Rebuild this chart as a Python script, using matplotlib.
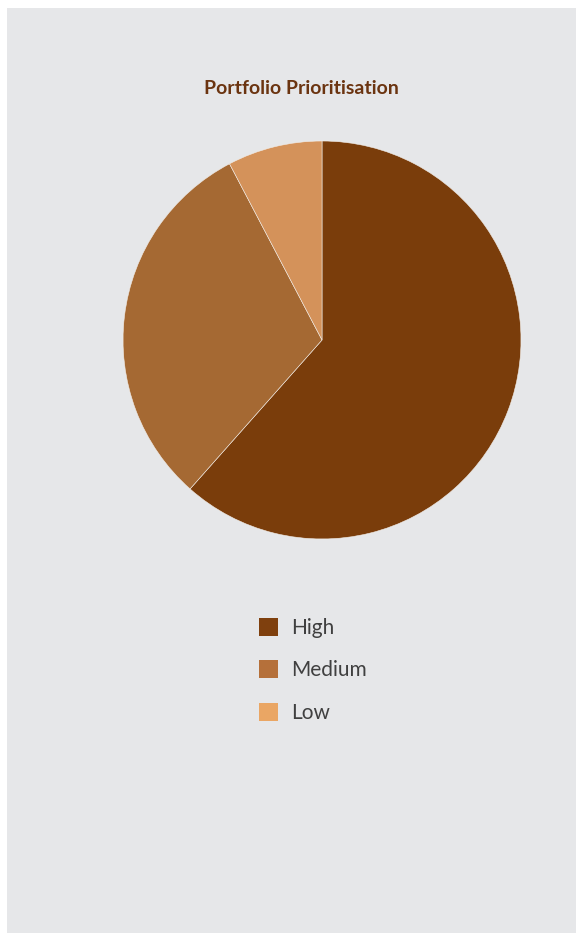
import matplotlib.pyplot as plt

from matplotlib.patches import Patch

# chart data
labels = ["High", "Medium", "Low"]
values = [16, 8, 2]
pie_colors = ["#7A3D0B", "#A56933", "#D4925A"]
legend_colors = ["#7F400E", "#B5703A", "#EAA664"]

fig = plt.figure(figsize=(5.76, 9.33), dpi=100)
fig.patch.set_facecolor("white")

# grey panel behind the chart
bg = fig.add_axes([7 / 576, 0, 1 - 7 / 576, 1 - 8 / 933], zorder=-1)
bg.set_facecolor("#E6E7E9")
bg.set_xticks([])
bg.set_yticks([])
for s in bg.spines.values():
    s.set_visible(False)

edge = fig.add_axes([1 / 576, 0, 1 / 576, 1 - 8 / 933], zorder=-1)
edge.set_facecolor("#E6E7E9")
edge.axis("off")
edge.patch.set_visible(True)

ax = fig.add_axes([0.2153, 0.4234, 0.6875, 0.4244])
ax.pie(values, colors=pie_colors, startangle=90, counterclock=False,
       wedgeprops={"edgecolor": "#F2EDE8", "linewidth": 0.4})
ax.set_xlim(-0.995, 0.995)
ax.set_ylim(-0.995, 0.995)
ax.set_aspect("equal")
ax.axis("off")

fig.text(301 / 576, 1 - 88.5 / 933, "Portfolio Prioritisation", ha="center", va="center",
         fontsize=14, fontweight="bold", color="#6B3410", family="Lato")

handles = [Patch(facecolor=c, edgecolor="none") for c in legend_colors]
leg = fig.legend(handles, labels, loc="upper left", bbox_to_anchor=(242 / 576, 1 - 601 / 933),
                 frameon=False, prop={"family": "Lato", "size": 15},
                 handlelength=0.95, handleheight=0.95, labelspacing=1.07, handletextpad=0.6,
                 borderpad=0.3)
for t in leg.get_texts():
    t.set_color("#404040")

fig.savefig("out.png", dpi=100, facecolor=fig.get_facecolor())
